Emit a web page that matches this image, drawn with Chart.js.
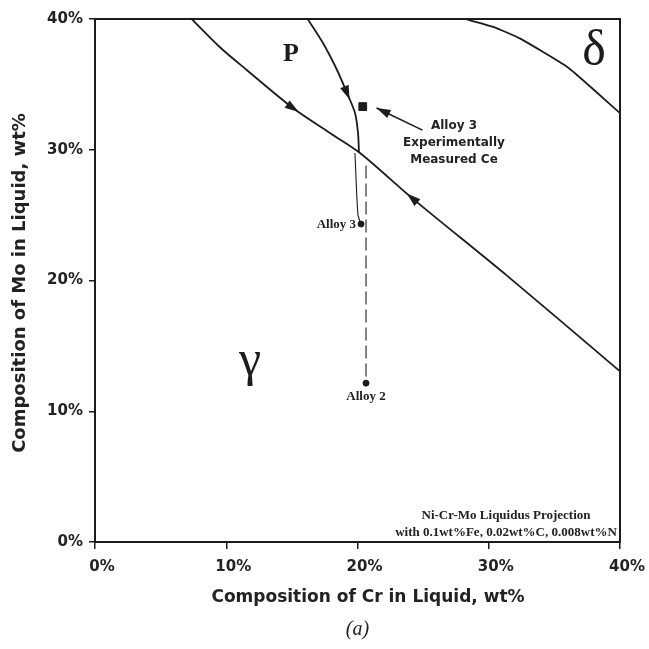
<!DOCTYPE html>
<html><head><meta charset="utf-8">
<script src="https://cdn.jsdelivr.net/npm/chart.js@4.4.1/dist/chart.umd.min.js"></script>
<style>html,body{margin:0;padding:0;background:#fff}canvas{display:block}</style>
</head><body>
<canvas id="c" width="649" height="649"></canvas>
<script>
// ---- data (wt%) ----
const xTicks = [0, 10, 20, 30, 40];
const yTicks = [0, 10, 20, 30, 40];
const gammaBoundaryX = [7.37, 9.5, 11.56, 15.08, 17.9, 20.19, 24.16, 31.41, 39.89, 40];
const gammaBoundaryY = [40, 37.86, 36.1, 33.19, 31.28, 29.75, 26.3, 20.35, 13.15, 13.05];
const pBoundaryX = [16.2, 17.37, 18.44, 19.2, 19.81, 20.04, 20.11];
const pBoundaryY = [40, 38.16, 36.1, 34.34, 32.81, 31.28, 29.83];
const deltaBoundaryX = [28.2, 30.34, 32.4, 35.99, 38.28, 40];
const deltaBoundaryY = [40, 39.4, 38.5, 36.33, 34.34, 32.8];
const alloy3PathX = [19.81, 19.9, 20.04, 20.27];
const alloy3PathY = [29.75, 27.5, 25.0, 24.32];
const alloy2PathX = [20.65, 20.65];
const alloy2PathY = [28.8, 12.15];
const alloyNames = ['Alloy 3', 'Alloy 2'];
const alloyX = [20.27, 20.65];
const alloyY = [24.32, 12.15];
const measuredCeX = [20.4];
const measuredCeY = [33.3];
// flow arrows on boundaries: position and the point they head toward
const arrowAtX = [15.08, 24.16, 19.2];
const arrowAtY = [33.19, 26.3, 34.34];
const arrowToX = [17.9, 20.19, 19.81];
const arrowToY = [31.28, 29.75, 32.81];
// annotation arrow (tail -> tip)
const noteArrowX = [24.95, 21.45];
const noteArrowY = [31.5, 33.2];
const noteLines = ['Alloy 3', 'Experimentally', 'Measured Ce'];
const boxLines = ['Ni-Cr-Mo Liquidus Projection', 'with 0.1wt%Fe, 0.02wt%C, 0.008wt%N'];

const pts = (xs, ys) => xs.map((v, i) => ({x: v, y: ys[i]}));
const INK = '#1c1c1c';

const deco = {
  id: 'deco',
  afterDraw(chart) {
    const {ctx, chartArea: a, scales: {x, y}} = chart;
    const px = v => x.getPixelForValue(v), py = v => y.getPixelForValue(v);
    ctx.save();
    ctx.strokeStyle = INK; ctx.fillStyle = INK;
    ctx.lineWidth = 2;
    ctx.strokeRect(a.left, a.top, a.right - a.left, a.bottom - a.top);

    function head(x0, y0, x1, y1, len, w) {
      const ang = Math.atan2(y1 - y0, x1 - x0), c = Math.cos(ang), s = Math.sin(ang);
      ctx.beginPath();
      ctx.moveTo(x1, y1);
      ctx.lineTo(x1 - len * c + w * s, y1 - len * s - w * c);
      ctx.lineTo(x1 - len * c - w * s, y1 - len * s + w * c);
      ctx.closePath(); ctx.fill();
    }
    for (let i = 0; i < arrowAtX.length; i++) {
      const x0 = px(arrowAtX[i]), y0 = py(arrowAtY[i]);
      const x1 = px(arrowToX[i]), y1 = py(arrowToY[i]);
      const d = Math.hypot(x1 - x0, y1 - y0);
      const ux = (x1 - x0) / d, uy = (y1 - y0) / d;
      head(x0 - ux * 7, y0 - uy * 7, x0 + ux * 7, y0 + uy * 7, 14, 4.5);
    }
    const tx = px(noteArrowX[0]), ty = py(noteArrowY[0]);
    const hx = px(noteArrowX[1]), hy = py(noteArrowY[1]);
    ctx.lineWidth = 1.6;
    ctx.beginPath(); ctx.moveTo(tx, ty); ctx.lineTo(hx, hy); ctx.stroke();
    head(tx, ty, hx, hy, 14, 4.5);

    ctx.textAlign = 'center'; ctx.textBaseline = 'middle';
    ctx.font = 'bold 12px "DejaVu Sans"';
    ctx.fillStyle = '#222';
    noteLines.forEach((t, i) => ctx.fillText(t, 454, 126 + i * 17));

    ctx.font = 'bold 13px "Liberation Serif"';
    ctx.textAlign = 'right';
    ctx.fillText(alloyNames[0], px(alloyX[0]) - 5, py(alloyY[0]) + 1);
    ctx.textAlign = 'center';
    ctx.fillText(alloyNames[1], px(alloyX[1]), py(alloyY[1]) + 14);

    ctx.fillStyle = INK;
    ctx.textBaseline = 'alphabetic';
    ctx.font = 'bold 26px "Liberation Serif"';
    ctx.fillText('P', 291, 61);
    ctx.font = '50px "Liberation Serif"';
    ctx.fillText('δ', 594, 65);
    ctx.fillText('γ', 250, 375);

    ctx.font = 'bold 13px "Liberation Serif"';
    ctx.fillStyle = '#222';
    boxLines.forEach((t, i) => ctx.fillText(t, 506, 519 + i * 17));

    ctx.textBaseline = 'middle';
    ctx.font = 'bold 17px "DejaVu Sans"';
    ctx.fillText('Composition of Cr in Liquid, wt%', 368, 598);
    ctx.save();
    ctx.translate(20, 283);
    ctx.rotate(-Math.PI / 2);
    ctx.font = 'bold 18px "DejaVu Sans"';
    ctx.fillText('Composition of Mo in Liquid, wt%', 0, 0);
    ctx.restore();
    ctx.font = 'italic 20px "Liberation Serif"';
    ctx.fillText('(a)', (a.left + a.right) / 2, 630);
    ctx.restore();
  }
};

const tickFont = {family: 'DejaVu Sans', size: 15, weight: 'bold'};
new Chart(document.getElementById('c'), {
  type: 'scatter',
  data: {
    datasets: [
      {data: pts(gammaBoundaryX, gammaBoundaryY), showLine: true, borderColor: INK, borderWidth: 1.8, pointRadius: 0, tension: 0.3},
      {data: pts(pBoundaryX, pBoundaryY), showLine: true, borderColor: INK, borderWidth: 1.8, pointRadius: 0, tension: 0.3},
      {data: pts(deltaBoundaryX, deltaBoundaryY), showLine: true, borderColor: INK, borderWidth: 1.8, pointRadius: 0, tension: 0.15},
      {data: pts(alloy3PathX, alloy3PathY), showLine: true, borderColor: INK, borderWidth: 1.1, pointRadius: 0, tension: 0.2},
      {data: pts(alloy2PathX, alloy2PathY), showLine: true, borderColor: INK, borderWidth: 1.1, borderDash: [13, 5], pointRadius: 0},
      {data: pts(alloyX, alloyY), showLine: false, pointRadius: 3, backgroundColor: INK, borderColor: INK},
      {data: pts(measuredCeX, measuredCeY), showLine: false, pointStyle: 'rect', pointRadius: 5.5, backgroundColor: INK, borderColor: INK}
    ]
  },
  options: {
    responsive: false, animation: false,
    layout: {padding: {top: 19, right: 29, left: 0, bottom: 0}},
    plugins: {legend: {display: false}, tooltip: {enabled: false}},
    scales: {
      x: {
        type: 'linear', min: 0, max: 40,
        afterFit(s) { s.height = 107; },
        afterBuildTicks(s) { s.ticks = xTicks.map(v => ({value: v})); },
        ticks: {callback: v => v + '%', font: tickFont, color: '#222', padding: 9, labelOffset: 7, maxRotation: 0},
        grid: {drawOnChartArea: false, drawTicks: true, tickLength: 7, color: INK, lineWidth: 1.5},
        border: {display: true, color: INK, width: 2}
      },
      y: {
        type: 'linear', min: 0, max: 40,
        afterFit(s) { s.width = 95; },
        afterBuildTicks(s) { s.ticks = yTicks.map(v => ({value: v})); },
        ticks: {callback: v => v + '%', font: tickFont, color: '#222', padding: 6},
        grid: {drawOnChartArea: false, drawTicks: true, tickLength: 6, color: INK, lineWidth: 1.5},
        border: {display: true, color: INK, width: 2}
      }
    }
  },
  plugins: [deco]
});
</script>
</body></html>
